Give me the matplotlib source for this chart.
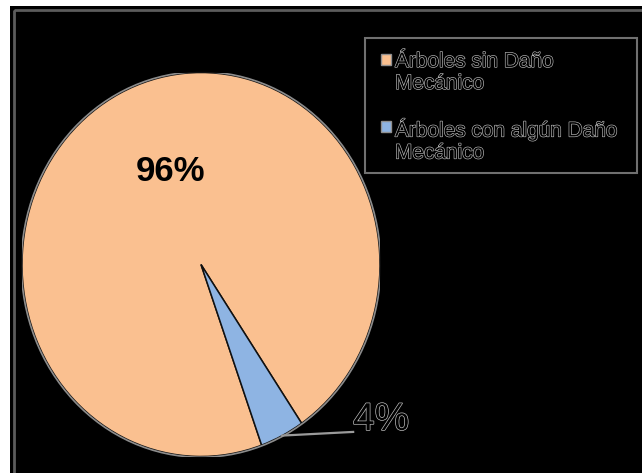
import numpy as np
import matplotlib
matplotlib.use("Agg")
import matplotlib.pyplot as plt
import matplotlib.patheffects as pe
from matplotlib.patches import Rectangle

# porcentaje de arboles segun dano mecanico
categorias = ["Árboles sin Daño\nMecánico", "Árboles con algún Daño\nMecánico"]
valores = [96, 4]
colores = ["#FAC090", "#8EB4E3"]

W, H = 642, 473
fig = plt.figure(figsize=(W / 100, H / 100), dpi=100, facecolor="white")

# capa de fondo en pixeles (y hacia abajo)
fondo = fig.add_axes([0, 0, 1, 1])
fondo.set_xlim(0, W)
fondo.set_ylim(H, 0)
fondo.axis("off")
fondo.add_patch(Rectangle((10, 6), W, H, facecolor="black", edgecolor="none", zorder=0))
fondo.add_patch(Rectangle((14, 10), W + 20, H + 20, facecolor="none",
                          edgecolor="#5c5c5c", linewidth=2, zorder=1))

contorno = [pe.withStroke(linewidth=0.9, foreground="#bdbdbd")]

# leyenda
fondo.add_patch(Rectangle((365, 38), 272, 135, facecolor="black",
                          edgecolor="#707070", linewidth=1.5, zorder=2))
y_ent = [60, 127]
for lab, col, y0 in zip(categorias, colores, y_ent):
    fondo.add_patch(Rectangle((381, y0 - 6), 10, 11, facecolor=col,
                              edgecolor="#909090", linewidth=1, zorder=3))
    fondo.text(395, y0 - 8, lab, ha="left", va="top", fontsize=15,
               family="Liberation Sans", color="black", linespacing=1.2,
               path_effects=contorno, zorder=4)

# grafico de torta (eje algo mas alto que ancho)
cx, cy, rx, ry = 201, 264.5, 179, 192
ax = fig.add_axes([(cx - rx) / W, (H - cy - ry) / H, 2 * rx / W, 2 * ry / H])
wedges, _ = ax.pie(valores, colors=colores, startangle=-55.8,
                   wedgeprops=dict(edgecolor="#111111", linewidth=1.1))
ax.set_xlim(-1, 1)
ax.set_ylim(-1, 1)
ax.set_aspect("auto")
ax.add_patch(plt.Circle((0, 0), 1.004, facecolor="none", edgecolor="#8c8c8c",
                        linewidth=1.2, zorder=5))

# etiquetas
ax.text(-0.168, 0.482, f"{valores[0]}%", ha="center", va="center",
        fontsize=25, fontweight="bold", color="black",
        family=["Liberation Sans Narrow", "Liberation Sans"])

w = wedges[1]
mid = np.deg2rad((w.theta1 + w.theta2) / 2)
ax.plot([np.cos(mid), 0.85], [np.sin(mid), -0.872], color="#9a9a9a",
        linewidth=1.6, zorder=6, clip_on=False)
ax.text(1.006, -0.81, f"{valores[1]}%", ha="center", va="center",
        fontsize=28, color="black",
        family=["Liberation Sans Narrow", "Liberation Sans"],
        path_effects=[pe.withStroke(linewidth=1.0, foreground="#bdbdbd")],
        clip_on=False)

fig.savefig("out.png", dpi=100, facecolor=fig.get_facecolor())
